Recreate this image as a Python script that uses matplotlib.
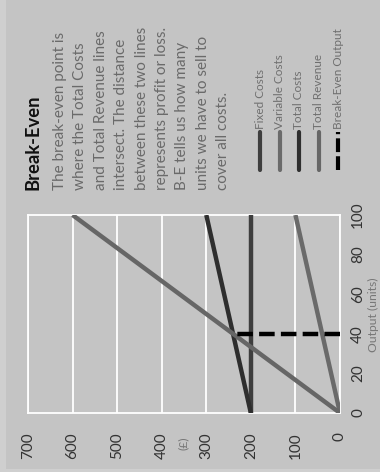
import matplotlib
matplotlib.use("Agg")
import matplotlib.pyplot as plt
from matplotlib.patches import Rectangle

plt.rcParams['font.family'] = ['Lato', 'DejaVu Sans']

# data (x = output in units, value in pounds)
output = [0, 100]
fixed_costs = [200, 200]
variable_costs = [0, 100]
total_costs = [200, 300]
total_revenue = [0, 600]
break_even_output = [40, 40]
break_even_value = [0, 240]

money_ticks = [0, 100, 200, 300, 400, 500, 600, 700]
output_ticks = [0, 20, 40, 60, 80, 100]

series_names = ['Fixed Costs', 'Variable Costs', 'Total Costs', 'Total Revenue', 'Break-Even Output']
series_colors = ['#3e3e3e', '#6a6a6a', '#2e2e2e', '#666666', '#000000']

title = 'Break-Even'
body = ['The break-even point is',
        'where the Total Costs',
        'and Total Revenue lines',
        'intersect. The distance',
        'between these two lines',
        'represents profit or loss.',
        'B-E tells us how many',
        'units we have to sell to',
        'cover all costs.']

BG = '#c4c4c4'
W, H = 380, 472

fig = plt.figure(figsize=(W / 100, H / 100), dpi=100, facecolor='#cfcfcf')
fig.patches.append(Rectangle((6 / W, 3 / H), 1, 1, transform=fig.transFigure,
                             facecolor=BG, edgecolor='none', zorder=-10))

# the chart is drawn turned on its side: money runs right-to-left, output bottom-to-top
ax = fig.add_axes([28 / W, (H - 413) / H, (340 - 28) / W, (413 - 215) / H])
ax.set_facecolor(BG)
ax.set_xlim(700, 0)
ax.set_ylim(0, 100)

lw = 3.2
ax.plot(fixed_costs, output, color=series_colors[0], lw=lw, solid_capstyle='butt', zorder=3)
ax.plot(variable_costs, output, color=series_colors[1], lw=lw, solid_capstyle='butt', zorder=3)
ax.plot(total_costs, output, color=series_colors[2], lw=lw, solid_capstyle='butt', zorder=3)
ax.plot(total_revenue, output, color=series_colors[3], lw=lw, solid_capstyle='butt', zorder=3)
ax.plot(break_even_value, break_even_output, color=series_colors[4], lw=lw,
        dashes=(3.5, 1.4), zorder=4)

ax.set_xticks(money_ticks)
ax.set_yticks(output_ticks)
ax.grid(axis='x', color='white', lw=1.3, zorder=1)
ax.set_axisbelow(True)
for s in ax.spines.values():
    s.set_color('white')
    s.set_linewidth(1.3)

ax.yaxis.tick_right()
ax.tick_params(length=0, labelsize=11, colors='#333333')
ax.tick_params(axis='x', pad=14)
ax.tick_params(axis='y', pad=8)
for lab in ax.get_xticklabels():
    lab.set_rotation(90)
for lab in ax.get_yticklabels():
    lab.set_rotation(90)
    lab.set_verticalalignment('center')

# overlay in pixel coordinates for the side-panel text
ov = fig.add_axes([0, 0, 1, 1], facecolor='none')
ov.set_xlim(0, W)
ov.set_ylim(H, 0)
ov.axis('off')

ov.text(183, 443, '(£)', rotation=90, rotation_mode='anchor', ha='center', va='center',
        fontsize=8.7, color='#777777')
ov.text(373, 315, 'Output (units)', rotation=90, rotation_mode='anchor', ha='center',
        va='center', fontsize=8.7, color='#777777')

ov.text(33, 190, title, rotation=90, rotation_mode='anchor', ha='left', va='center',
        fontsize=13.2, fontweight='bold', color='#111111')
for i, line in enumerate(body):
    ov.text(60 + 20.4 * i, 190, line, rotation=90, rotation_mode='anchor', ha='left',
            va='center', fontsize=11, color='#6a6a6a')

for i, (name, col) in enumerate(zip(series_names, series_colors)):
    x = 260 + 19.5 * i
    if i == 4:
        ov.plot([x, x], [170, 132], color=col, lw=3, dashes=(3.3, 1.0))
    else:
        ov.plot([x, x], [170, 132], color=col, lw=3, solid_capstyle='round')
    ov.text(x, 129, name, rotation=90, rotation_mode='anchor', ha='left', va='center',
            fontsize=8.5, color='#6f6f6f')

fig.savefig('out.png', dpi=100, facecolor=fig.get_facecolor())
